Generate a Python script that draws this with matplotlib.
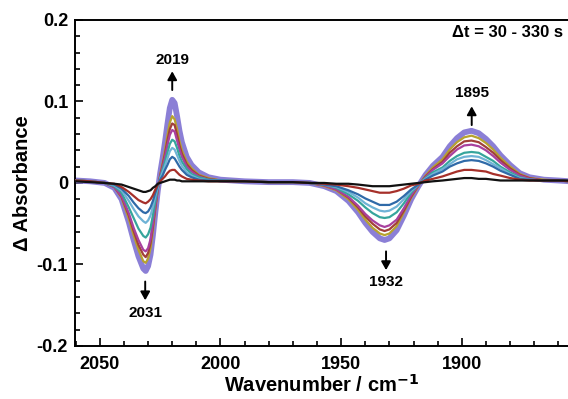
import matplotlib
matplotlib.use("Agg")
import matplotlib.pyplot as plt
from matplotlib.ticker import MultipleLocator

plt.rcParams["font.family"] = ["Liberation Sans", "DejaVu Sans"]
plt.rcParams["font.weight"] = "bold"

# wavenumber grid (cm-1), shared by all spectra
wavenumber = [2060, 2054, 2048,
              2044, 2041, 2038, 2036, 2034, 2032, 2031, 2030, 2029, 2028, 2027, 2026,
              2025, 2024, 2023, 2022, 2021, 2020, 2019, 2018, 2017, 2016, 2014, 2012, 2009, 2005,
              2000, 1990, 1980, 1970, 1963,
              1957, 1952, 1947, 1943, 1940, 1937, 1934, 1932, 1930, 1927, 1924, 1921, 1918,
              1915, 1912, 1908, 1905, 1902, 1899, 1896, 1893, 1890, 1887, 1884, 1880, 1876, 1872, 1866, 1860, 1855]

# difference spectra, earliest (black) to latest (purple)
spec_black = [0.002, 0.001, 0.000,
              -0.001, -0.002, -0.005, -0.007, -0.009, -0.011, -0.011, -0.010, -0.009, -0.006, -0.004, -0.001,
              0.000, 0.001, 0.002, 0.003, 0.004, 0.004, 0.004, 0.003, 0.003, 0.002, 0.002, 0.002, 0.002, 0.002,
              0.002, 0.002, 0.001, 0.001, 0.000,
              0.000, -0.001, -0.001, -0.002, -0.003, -0.004, -0.004, -0.004, -0.004, -0.003, -0.002, -0.001, 0.000,
              0.001, 0.002, 0.003, 0.004, 0.005, 0.006, 0.006, 0.005, 0.005, 0.004, 0.003, 0.003, 0.003, 0.003, 0.003, 0.003, 0.003]
spec_darkred = [0.003, 0.002, 0.000,
                -0.001, -0.005, -0.011, -0.016, -0.021, -0.024, -0.025, -0.023, -0.020, -0.015, -0.008, -0.002,
                0.002, 0.005, 0.008, 0.012, 0.015, 0.016, 0.016, 0.013, 0.010, 0.008, 0.005, 0.004, 0.003, 0.002,
                0.002, 0.002, 0.001, 0.001, 0.000,
                -0.001, -0.002, -0.004, -0.006, -0.008, -0.010, -0.012, -0.012, -0.012, -0.010, -0.007, -0.003, -0.001,
                0.003, 0.005, 0.008, 0.011, 0.014, 0.016, 0.016, 0.015, 0.014, 0.011, 0.009, 0.006, 0.004, 0.003, 0.003, 0.003, 0.002]
spec_blue = [0.003, 0.002, 0.000,
             -0.002, -0.007, -0.016, -0.024, -0.031, -0.036, -0.037, -0.035, -0.030, -0.022, -0.012, -0.003,
             0.004, 0.009, 0.016, 0.022, 0.029, 0.032, 0.030, 0.025, 0.020, 0.016, 0.010, 0.007, 0.004, 0.003,
             0.003, 0.002, 0.001, 0.001, 0.000,
             -0.002, -0.004, -0.009, -0.014, -0.019, -0.023, -0.027, -0.027, -0.027, -0.023, -0.016, -0.008, -0.002,
             0.004, 0.009, 0.014, 0.020, 0.024, 0.027, 0.028, 0.027, 0.024, 0.020, 0.015, 0.010, 0.005, 0.004, 0.003, 0.003, 0.002]
spec_lightblue = [0.003, 0.002, 0.000,
                  -0.003, -0.009, -0.022, -0.032, -0.041, -0.047, -0.049, -0.046, -0.040, -0.029, -0.016, -0.005,
                  0.005, 0.013, 0.021, 0.030, 0.039, 0.043, 0.041, 0.034, 0.027, 0.021, 0.013, 0.009, 0.005, 0.003,
                  0.003, 0.002, 0.001, 0.001, 0.000,
                  -0.002, -0.005, -0.011, -0.018, -0.025, -0.030, -0.034, -0.035, -0.034, -0.029, -0.020, -0.010, -0.002,
                  0.005, 0.011, 0.017, 0.023, 0.029, 0.032, 0.033, 0.032, 0.028, 0.023, 0.018, 0.011, 0.006, 0.004, 0.003, 0.003, 0.002]
spec_teal = [0.003, 0.002, 0.000,
             -0.004, -0.012, -0.030, -0.043, -0.056, -0.065, -0.067, -0.063, -0.055, -0.040, -0.022, -0.006,
             0.006, 0.016, 0.026, 0.037, 0.048, 0.053, 0.051, 0.043, 0.033, 0.026, 0.017, 0.011, 0.007, 0.004,
             0.003, 0.002, 0.001, 0.001, 0.000,
             -0.002, -0.006, -0.014, -0.022, -0.030, -0.037, -0.042, -0.043, -0.042, -0.036, -0.025, -0.012, -0.002,
             0.006, 0.013, 0.019, 0.027, 0.033, 0.037, 0.038, 0.037, 0.032, 0.027, 0.020, 0.013, 0.007, 0.004, 0.003, 0.003, 0.002]
spec_magenta = [0.003, 0.002, 0.000,
                -0.005, -0.016, -0.037, -0.055, -0.070, -0.082, -0.084, -0.080, -0.069, -0.050, -0.028, -0.008,
                0.008, 0.019, 0.032, 0.046, 0.059, 0.065, 0.063, 0.052, 0.041, 0.032, 0.020, 0.014, 0.008, 0.004,
                0.003, 0.002, 0.001, 0.001, 0.000,
                -0.003, -0.008, -0.017, -0.028, -0.038, -0.046, -0.052, -0.054, -0.052, -0.045, -0.031, -0.015, -0.003,
                0.007, 0.016, 0.024, 0.033, 0.041, 0.046, 0.047, 0.045, 0.040, 0.033, 0.025, 0.016, 0.009, 0.005, 0.003, 0.003, 0.002]
spec_brown = [0.003, 0.002, 0.000,
              -0.005, -0.017, -0.040, -0.059, -0.076, -0.088, -0.091, -0.086, -0.074, -0.054, -0.030, -0.008,
              0.009, 0.022, 0.036, 0.052, 0.066, 0.073, 0.071, 0.059, 0.046, 0.036, 0.023, 0.016, 0.009, 0.005,
              0.003, 0.002, 0.001, 0.001, 0.000,
              -0.003, -0.008, -0.018, -0.030, -0.041, -0.050, -0.057, -0.059, -0.057, -0.049, -0.034, -0.017, -0.003,
              0.008, 0.017, 0.026, 0.037, 0.045, 0.051, 0.052, 0.050, 0.044, 0.037, 0.028, 0.018, 0.010, 0.006, 0.003, 0.003, 0.002]
spec_olive = [0.003, 0.002, 0.000,
              -0.005, -0.018, -0.044, -0.064, -0.082, -0.096, -0.098, -0.093, -0.080, -0.058, -0.033, -0.009,
              0.010, 0.024, 0.040, 0.058, 0.074, 0.082, 0.078, 0.066, 0.051, 0.040, 0.026, 0.018, 0.010, 0.006,
              0.003, 0.002, 0.001, 0.001, 0.000,
              -0.004, -0.009, -0.020, -0.033, -0.045, -0.055, -0.062, -0.064, -0.062, -0.053, -0.036, -0.018, -0.004,
              0.009, 0.019, 0.029, 0.041, 0.050, 0.056, 0.058, 0.055, 0.049, 0.041, 0.031, 0.020, 0.011, 0.006, 0.004, 0.003, 0.002]
spec_purple = [0.003, 0.002, 0.000,
               -0.006, -0.020, -0.048, -0.070, -0.090, -0.105, -0.108, -0.102, -0.088, -0.064, -0.036, -0.010,
               0.012, 0.030, 0.050, 0.072, 0.092, 0.102, 0.098, 0.082, 0.064, 0.050, 0.032, 0.022, 0.013, 0.007,
               0.004, 0.002, 0.001, 0.001, 0.000,
               -0.004, -0.010, -0.022, -0.036, -0.049, -0.060, -0.068, -0.070, -0.068, -0.058, -0.040, -0.020, -0.004,
               0.010, 0.021, 0.032, 0.045, 0.055, 0.062, 0.064, 0.061, 0.054, 0.045, 0.034, 0.022, 0.012, 0.007, 0.004, 0.003, 0.002]

# peak labels: text, arrow x, arrow tail y, arrow tip y, label y
peak_labels = ["2019", "2031", "1932", "1895"]
peak_x = [2020.0, 2031.2, 1931.4, 1895.9]
arrow_tail = [0.114, -0.121, -0.084, 0.071]
arrow_tip = [0.137, -0.144, -0.107, 0.094]
label_y = [0.151, -0.160, -0.122, 0.110]

fig = plt.figure(figsize=(5.68, 3.99), dpi=100)
ax = fig.add_axes([0.132, 0.133, 0.868, 0.817])

ax.plot(wavenumber, spec_purple, color="#8b7fd6", lw=4.2, solid_capstyle="round", zorder=2)
thin = [(spec_olive, "#b7a32e"), (spec_brown, "#a2403a"), (spec_magenta, "#a8409e"),
        (spec_teal, "#36a59c"), (spec_lightblue, "#6fb3d6"), (spec_blue, "#2f6aa8"),
        (spec_darkred, "#a6302a"), (spec_black, "#111111")]
for ys, c in thin:
    ax.plot(wavenumber, ys, color=c, lw=1.6, zorder=3)

for lab, x, t0, t1, ly in zip(peak_labels, peak_x, arrow_tail, arrow_tip, label_y):
    ax.annotate("", xy=(x, t1), xytext=(x, t0),
                arrowprops=dict(arrowstyle="-|>,head_width=0.28,head_length=0.5",
                                color="black", lw=1.4, shrinkA=0, shrinkB=0))
    ax.text(x, ly, lab, ha="center", va="center", fontsize=11, fontweight="bold")

ax.text(0.99, 0.96, "Δt = 30 - 330 s", transform=ax.transAxes, ha="right", va="center",
        fontsize=12, fontweight="bold")

ax.set_xlim(2060.3, 1856)
ax.set_ylim(-0.2, 0.2)
ax.xaxis.set_major_locator(MultipleLocator(50))
ax.xaxis.set_minor_locator(MultipleLocator(10))
ax.yaxis.set_major_locator(MultipleLocator(0.1))
ax.yaxis.set_minor_locator(MultipleLocator(0.02))
ax.set_yticks([-0.2, -0.1, 0, 0.1, 0.2])
ax.set_yticklabels(["-0.2", "-0.1", "0", "0.1", "0.2"])
ax.tick_params(which="both", direction="in", width=1.2, labelsize=13, pad=5)
ax.tick_params(axis="x", pad=7)
ax.tick_params(which="major", length=6)
ax.tick_params(which="minor", length=3.5)
ax.spines["right"].set_visible(False)
for s in ["left", "bottom", "top"]:
    ax.spines[s].set_linewidth(1.4)

ax.set_xlabel("Wavenumber / cm$^{\\mathbf{-1}}$", fontsize=14.5, fontweight="bold", labelpad=1)
ax.set_ylabel("Δ Absorbance", fontsize=14.5, fontweight="bold", labelpad=3)

fig.savefig("out.png", dpi=100)
